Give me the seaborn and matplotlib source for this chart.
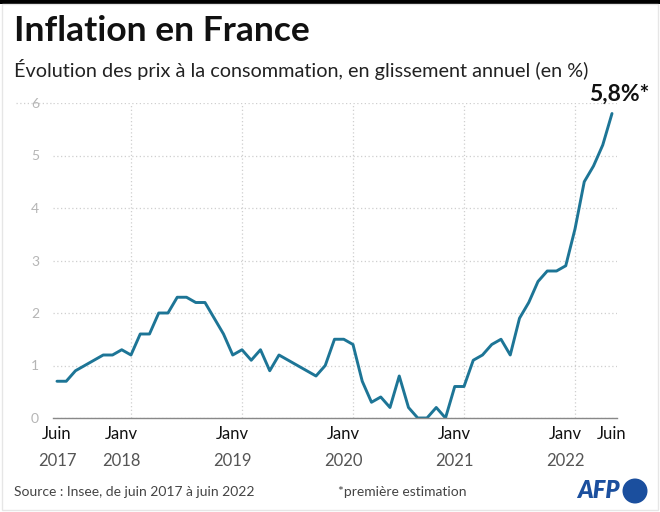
import pandas as pd
import seaborn as sns
import matplotlib.pyplot as plt
from matplotlib.patches import Rectangle, Ellipse
import matplotlib.transforms as mtransforms

# glissement annuel des prix, juin 2017 -> juin 2022 (Insee)
inflation_2017 = [0.7, 0.7, 0.9, 1.0, 1.1, 1.2, 1.2]
inflation_2018 = [1.3, 1.2, 1.6, 1.6, 2.0, 2.0, 2.3, 2.3, 2.2, 2.2, 1.9, 1.6]
inflation_2019 = [1.2, 1.3, 1.1, 1.3, 0.9, 1.2, 1.1, 1.0, 0.9, 0.8, 1.0, 1.5]
inflation_2020 = [1.5, 1.4, 0.7, 0.3, 0.4, 0.2, 0.8, 0.2, 0.0, 0.0, 0.2, 0.0]
inflation_2021 = [0.6, 0.6, 1.1, 1.2, 1.4, 1.5, 1.2, 1.9, 2.2, 2.6, 2.8, 2.8]
inflation_2022 = [2.9, 3.6, 4.5, 4.8, 5.2, 5.8]
values = inflation_2017 + inflation_2018 + inflation_2019 + inflation_2020 + inflation_2021 + inflation_2022
dates = pd.date_range("2017-06-01", periods=len(values), freq="MS")
month_names = {1: "Janv", 6: "Juin"}
y_ticks = [0, 1, 2, 3, 4, 5, 6]
last_label = "5,8%*"

df = pd.DataFrame({"idx": range(len(values)), "date": dates, "val": values})

sns.set_style("white")
plt.rcParams["font.family"] = ["Lato", "DejaVu Sans"]

fig = plt.figure(figsize=(6.6, 5.12), dpi=100)
ax = fig.add_axes([53 / 660, 1 - 418 / 512, 564 / 660, 315 / 512])

line_col = "#1d7596"
sns.lineplot(data=df, x="idx", y="val", ax=ax, color=line_col, linewidth=2.1)

ax.set_xlim(-0.43, len(values) - 1 + 0.54)
ax.set_ylim(0, 6)

# ticks: Janv of each year + first and last month
tick_idx = [i for i, d in enumerate(dates) if d.month == 1 or i == 0 or i == len(dates) - 1]
ax.set_xticks(tick_idx)
ax.set_xticklabels([month_names[dates[i].month] for i in tick_idx], fontsize=12, color="#111")
trans = mtransforms.blended_transform_factory(ax.transData, ax.transAxes)
for i in tick_idx:
    if i == len(dates) - 1:
        continue
    ax.text(i, -0.135, str(dates[i].year), transform=trans, ha="center", va="center",
            fontsize=12, color="#555")
ax.tick_params(axis="x", length=0, pad=6)

# vertical dotted grid (Feb of each year + end)
grid_idx = [i for i, d in enumerate(dates) if d.month == 2] + [len(dates) - 1]
ax.set_xticks(grid_idx, minor=True)
ax.grid(axis="x", which="minor", color="#cfcfcf", linestyle=(0, (1, 2)), linewidth=0.9)
ax.grid(axis="x", which="major", visible=False)

ax.set_yticks(y_ticks)
ax.set_yticklabels([str(v) for v in y_ticks], fontsize=10, color="#b5b5b5")
ax.tick_params(axis="y", length=0, pad=10)
ax.grid(axis="y", color="#cfcfcf", linestyle=(0, (1, 2)), linewidth=0.9)
ax.plot([-0.065, 0], [1, 1], transform=ax.transAxes, color="#cfcfcf",
        linestyle=(0, (1, 2)), linewidth=0.9, clip_on=False)

for s in ["top", "right", "left"]:
    ax.spines[s].set_visible(False)
ax.spines["bottom"].set_color("#888888")
ax.spines["bottom"].set_linewidth(1.0)

ax.set_xlabel("")
ax.set_ylabel("")

ax.annotate(last_label, xy=(len(values) - 1, values[-1]), xytext=(5, 6),
            textcoords="offset points", ha="center", va="bottom",
            fontsize=16.5, fontweight="bold", color="#111")

fig.text(14 / 660, 1 - 31 / 512, "Inflation en France", fontsize=25.5, fontweight="bold",
         color="#111", va="center", ha="left")
fig.text(14 / 660, 1 - 69 / 512,
         "Évolution des prix à la consommation, en glissement annuel (en %)",
         fontsize=14.3, color="#222", va="center", ha="left")
fig.text(14 / 660, 1 - 492 / 512, "Source : Insee, de juin 2017 à juin 2022",
         fontsize=10, color="#444", va="center", ha="left")
fig.text(338 / 660, 1 - 492 / 512, "*première estimation",
         fontsize=10, color="#444", va="center", ha="left")

# AFP logo
fig.text(598 / 660, 1 - 491 / 512, "AFP", fontsize=17, fontweight="heavy", style="italic",
         color="#1b4f9e", va="center", ha="center")
fig.patches.append(Ellipse((635 / 660, 1 - 491 / 512), 25 / 660, 25 / 512,
                           transform=fig.transFigure, color="#1b4f9e", ec="none"))

# frame: black band on top, light border elsewhere
fig.patches.append(Rectangle((0, 1 - 4 / 512), 1, 4 / 512, transform=fig.transFigure,
                             color="black", ec="none"))
fig.patches.append(Rectangle((2 / 660, 2 / 512), 656 / 660, 506 / 512, transform=fig.transFigure,
                             fill=False, ec="#e6e6e6", lw=1))

fig.savefig("out.png", dpi=100)
